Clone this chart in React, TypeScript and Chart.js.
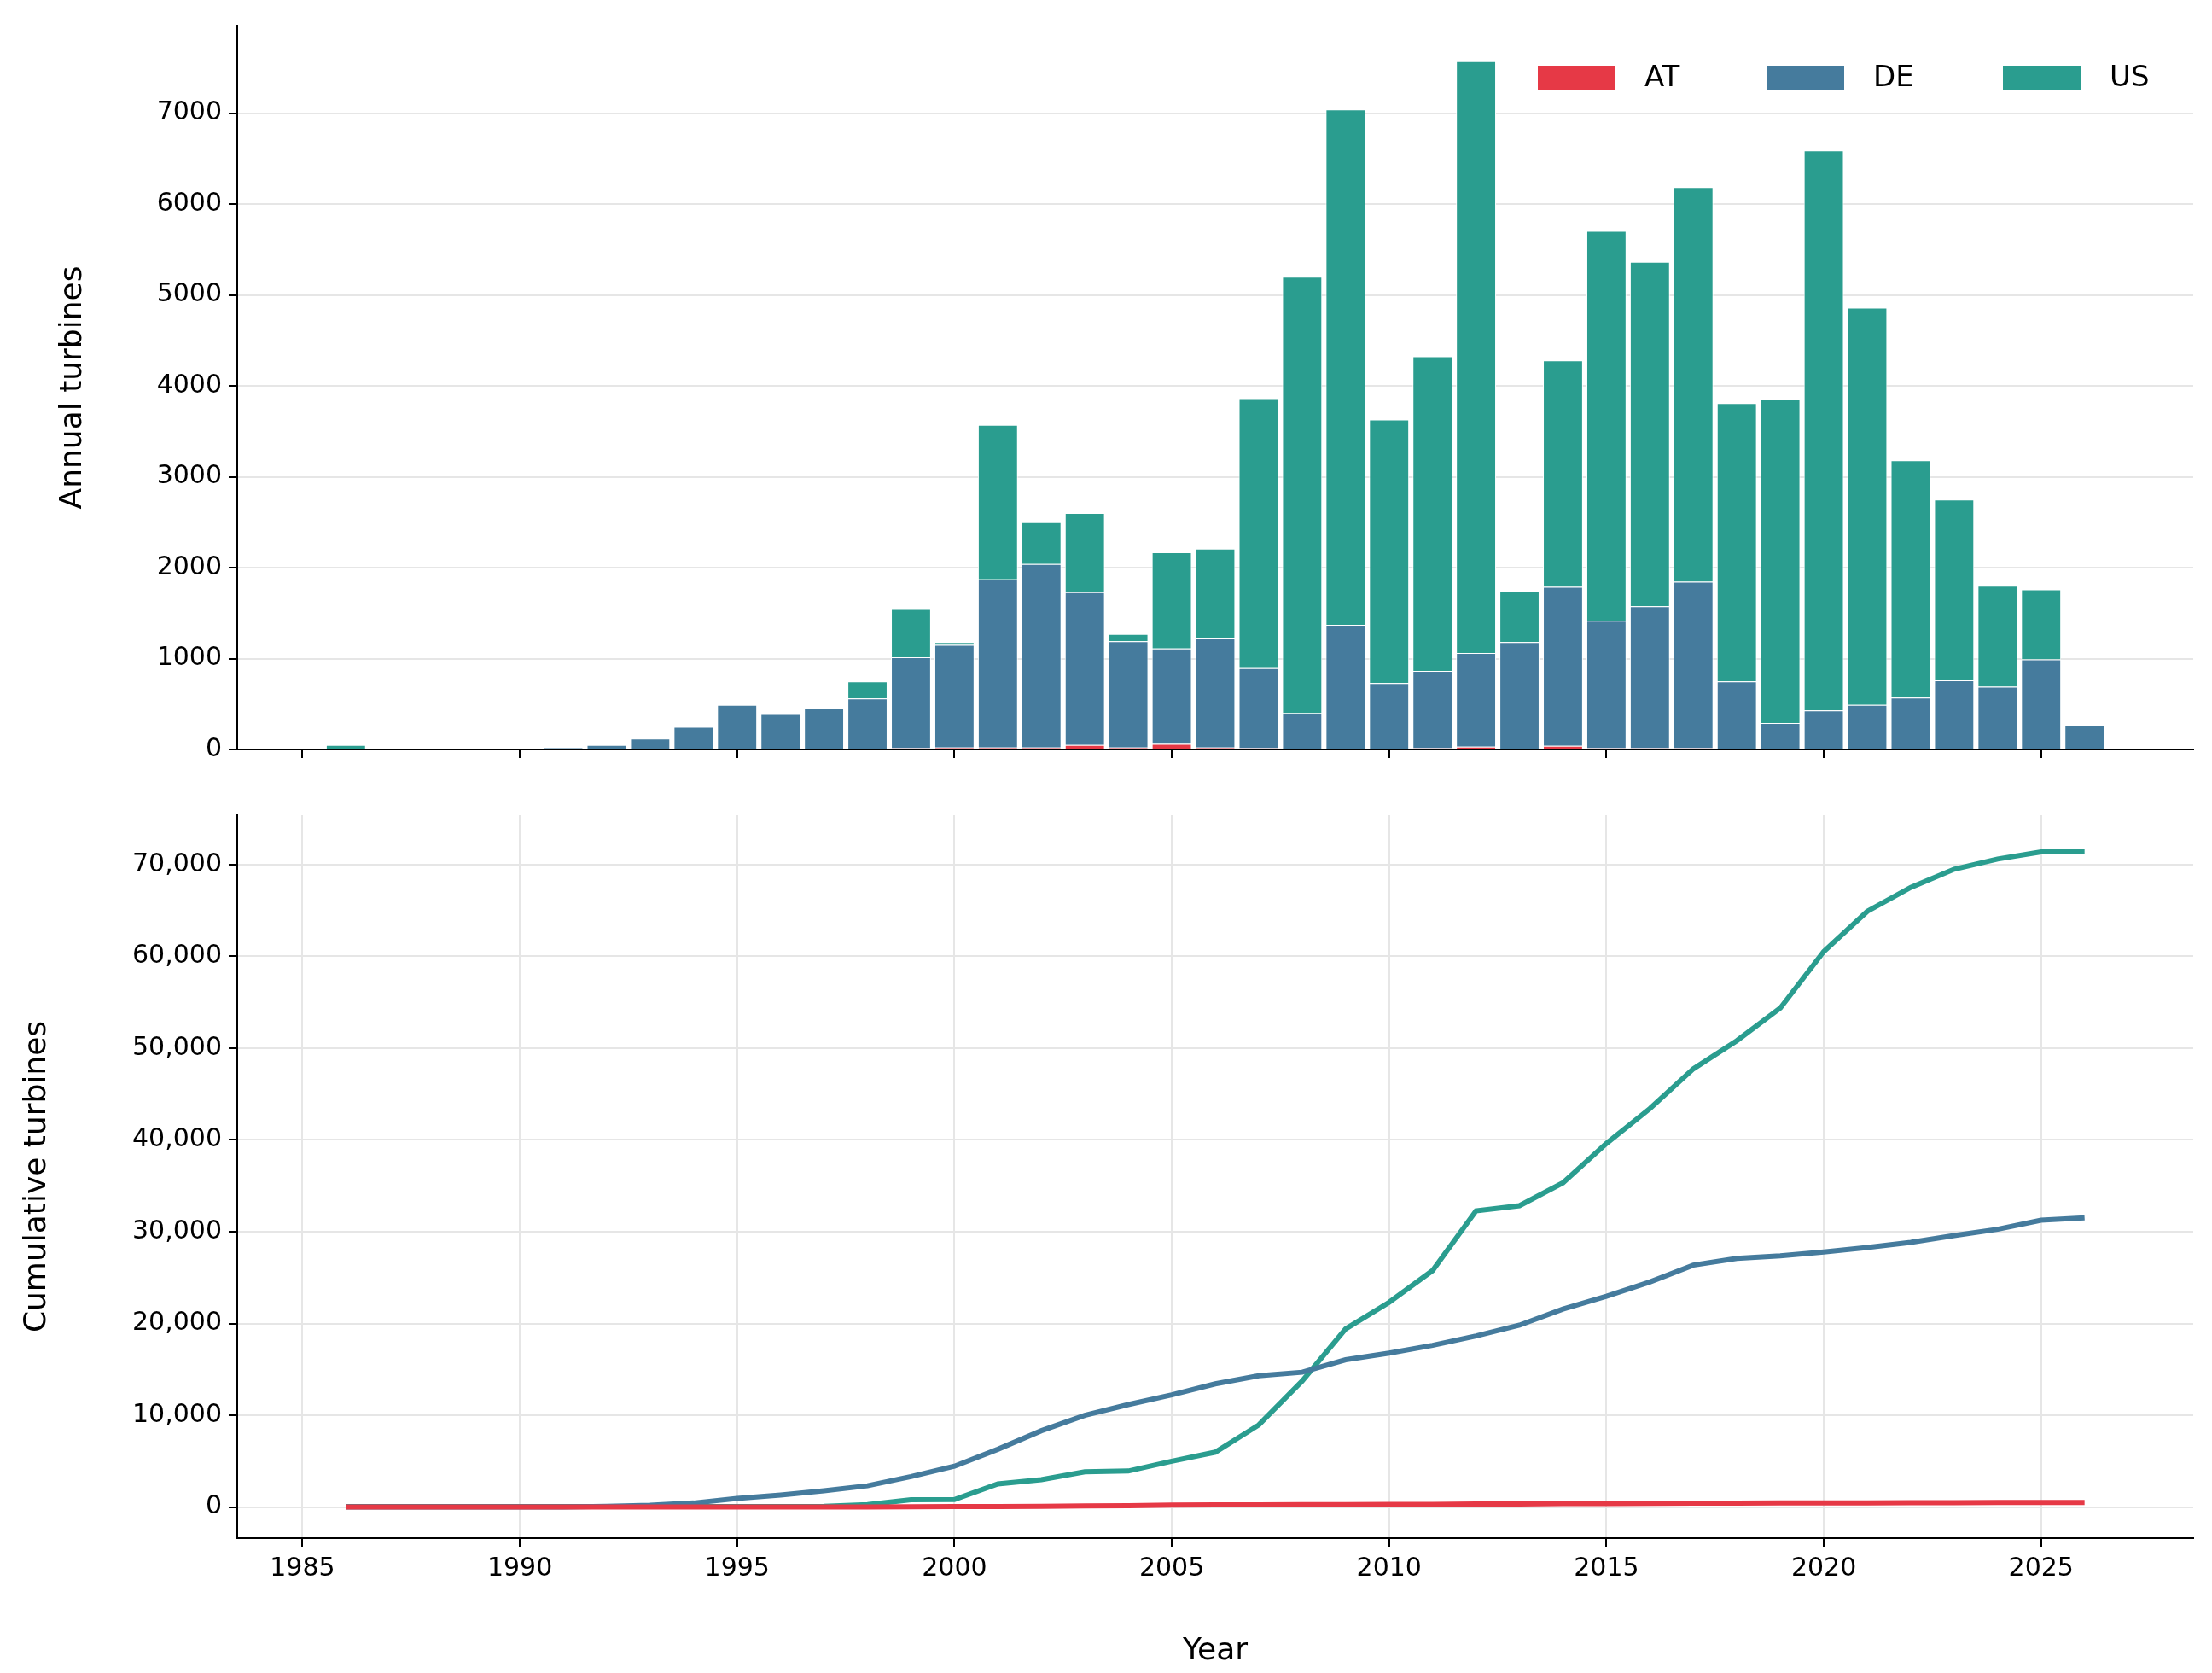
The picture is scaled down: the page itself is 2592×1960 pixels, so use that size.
import React, { useEffect, useRef } from "react";
import { Chart, registerables } from "chart.js";
Chart.register(...registerables);

const years = Array.from({ length: 41 }, (_, i) => 1986 + i);
const atAnnual = [0,0,0,0,0,0,0,0,0,0,0,0,10,15,20,20,20,50,20,60,20,15,10,10,10,15,30,10,40,15,15,15,10,10,10,10,10,10,10,10,5];
const deAnnual = [0,0,0,0,0,20,50,120,250,490,390,450,550,1000,1130,1850,2020,1680,1170,1050,1200,880,390,1360,720,850,1030,1170,1750,1400,1560,1830,740,280,420,480,560,750,680,980,260];
const usAnnual = [50,0,0,0,0,0,0,0,0,0,0,20,190,530,30,1700,460,870,80,1060,990,2960,4800,5670,2900,3460,6510,560,2490,4290,3790,4340,3060,3560,6160,4370,2610,1990,1110,770,0];
const names = ["AT", "DE", "US"];
const colors = ["#e63946", "#457b9d", "#2a9d8f"];
const xTicks = [1985,1990,1995,2000,2005,2010,2015,2020,2025];

const cum = (a: number[]) => { let s = 0; return a.map(v => (s += v)); };
const font = { family: "DejaVu Sans", size: 30 };
const titleFont = { family: "DejaVu Sans", size: 36 };
const grid = { color: "#e6e6e6", lineWidth: 2 };

const legendPlugin = {
  id: "customLegend",
  afterDraw(chart: any) {
    const ctx = chart.ctx;
    const boxX = [1802, 2070, 2347];
    ctx.save();
    ctx.font = "34px 'DejaVu Sans'";
    ctx.textBaseline = "middle";
    names.forEach((n, i) => {
      ctx.fillStyle = colors[i];
      ctx.fillRect(boxX[i], 77, 91, 28);
      ctx.fillStyle = "#000";
      ctx.fillText(n, boxX[i] + 125, 92);
    });
    ctx.restore();
  },
};

export default function App() {
  const r1 = useRef<HTMLCanvasElement>(null);
  const r2 = useRef<HTMLCanvasElement>(null);
  useEffect(() => {
    Chart.defaults.font.family = "DejaVu Sans";
    Chart.defaults.color = "#000";
    const xBase = (showLabels: boolean, showGrid: boolean, h: number) => ({
      type: "linear" as const, min: 1983.5, max: 2028.5, offset: false,
      afterBuildTicks: (ax: any) => { ax.ticks = xTicks.map(v => ({ value: v })); },
      afterFit: (ax: any) => { ax.height = h; },
      ticks: { display: showLabels, font, padding: 8, callback: (v: any) => String(v) },
      grid: { ...grid, offset: false, display: true, drawOnChartArea: showGrid, tickLength: 10, tickColor: "#000", tickWidth: 2 },
      border: { display: true, color: "#000", width: 2 },
      title: { display: showLabels, text: "Year", font: titleFont, padding: { top: 4 } },
    });
    const c1 = new Chart(r1.current!, {
      type: "bar",
      data: {
        datasets: [atAnnual, deAnnual, usAnnual].map((d, i) => ({
          label: names[i],
          data: years.map((y, j) => ({ x: y, y: d[j] })),
          backgroundColor: colors[i], borderColor: "#ffffff", borderWidth: 1,
          barPercentage: 0.92, categoryPercentage: 1,
        })),
      },
      options: {
        responsive: false, animation: false,
        layout: { padding: { top: 30, right: 22, left: 60 } },
        plugins: { legend: { display: false }, tooltip: { enabled: false } },
        scales: {
          x: { ...xBase(false, false, 42), stacked: true } as any,
          y: {
            stacked: true, min: 0, max: 7963,
            afterBuildTicks: (ax: any) => { ax.ticks = [0,1000,2000,3000,4000,5000,6000,7000].map(v => ({ value: v })); },
            afterFit: (ax: any) => { ax.width = 218; },
            ticks: { font, padding: 8, callback: (v: any) => String(v) },
            grid: { ...grid, tickLength: 10, tickColor: "#000", tickWidth: 2 },
            border: { display: true, color: "#000", width: 2 },
            title: { display: true, text: "Annual turbines", font: titleFont },
          },
        },
      },
      plugins: [legendPlugin],
    });
    const c2 = new Chart(r2.current!, {
      type: "line",
      data: {
        datasets: [atAnnual, deAnnual, usAnnual].map((d, i) => {
          const c = cum(d);
          return {
            label: names[i],
            data: years.map((y, j) => ({ x: y, y: c[j] })),
            borderColor: colors[i], borderWidth: 6, pointRadius: 0, tension: 0, fill: false,
          };
        }),
      },
      options: {
        responsive: false, animation: false,
        layout: { padding: { top: 35, right: 22, left: 18 } },
        plugins: { legend: { display: false }, tooltip: { enabled: false } },
        scales: {
          x: xBase(true, true, 158) as any,
          y: {
            min: -3385, max: 75385,
            afterBuildTicks: (ax: any) => { ax.ticks = [0,10000,20000,30000,40000,50000,60000,70000].map(v => ({ value: v })); },
            afterFit: (ax: any) => { ax.width = 260; },
            ticks: { font, padding: 8, callback: (v: any) => Number(v).toLocaleString("en-US") },
            grid: { ...grid, tickLength: 10, tickColor: "#000", tickWidth: 2 },
            border: { display: true, color: "#000", width: 2 },
            title: { display: true, text: "Cumulative turbines", font: titleFont },
          },
        },
      },
    });
    return () => { c1.destroy(); c2.destroy(); };
  }, []);
  return (
    <div style={{ position: "absolute", left: 0, top: 0, width: 2592, height: 1960, background: "#fff" }}>
      <canvas ref={r1} width={2592} height={920} style={{ position: "absolute", left: 0, top: 0 }} />
      <canvas ref={r2} width={2592} height={1040} style={{ position: "absolute", left: 0, top: 920 }} />
    </div>
  );
}
